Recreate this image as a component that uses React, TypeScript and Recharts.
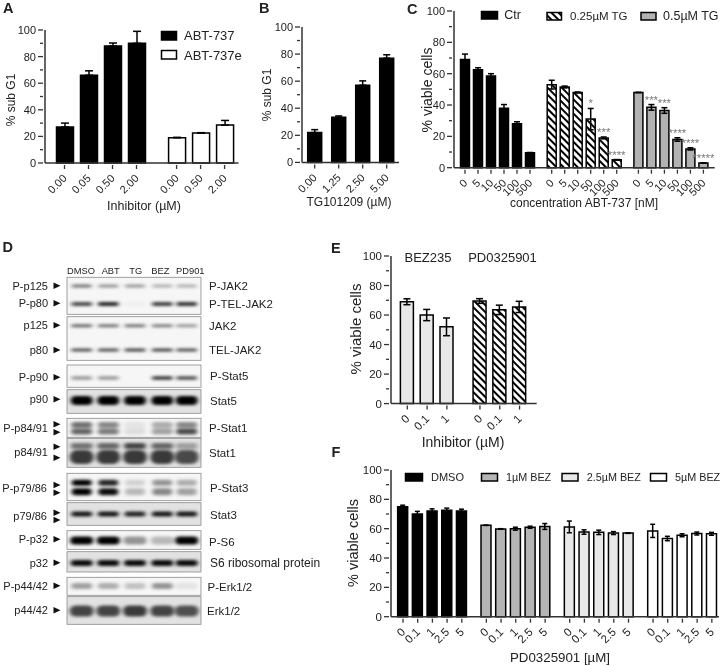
import { BarChart, Bar, Cell, ErrorBar, LabelList, XAxis, YAxis } from 'recharts';

// Panel A
const aLabels = [['0.00', '0.05', '0.50', '2.00'], ['0.00', '0.50', '2.00']];
const aValues = [[27, 66, 88, 90], [19, 22.5, 28.5]];
const aErrors = [[3, 3.3, 2.2, 9], [0.3, 0.3, 3.5]];

// Panel B
const bLabels = [['0.00', '1.25', '2.50', '5.00']];
const bValues = [[22, 33.3, 57, 77]];
const bErrors = [[2.2, 1, 3.2, 2.5]];

// Panel C
const cDoses = ['0', '5', '10', '50', '100', '500'];
const cLabels = [cDoses, cDoses, cDoses];
const cValues = [
  [69, 62.5, 58.5, 38, 28, 9.5],
  [53, 51.5, 48, 31, 19, 5],
  [48, 38.5, 36.5, 18, 12, 3],
];
const cErrors = [
  [3.5, 1.3, 1.5, 2.3, 1.3, 0.2],
  [2.8, 0.6, 0.3, 6.8, 0.6, 0.2],
  [0.1, 1.8, 1.8, 1.1, 0.7, 0.1],
];
const cStars = [
  ['', '', '', '', '', ''],
  ['', '', '', '*', '***', '****'],
  ['', '***', '***', '****', '****', '*****'],
];

// Panel E
const eDoses = ['0', '0.1', '1'];
const eLabels = [eDoses, eDoses];
const eValues = [[69, 60, 52], [69.5, 63.5, 65.5]];
const eErrors = [[2, 3.8, 6], [1.6, 3.2, 3.8]];

// Panel F
const fDoses = ['0', '0.1', '1', '2.5', '5'];
const fLabels = [fDoses, fDoses, fDoses, fDoses];
const fValues = [
  [75, 70, 72, 72.5, 72],
  [62.3, 59.8, 60, 61, 61.5],
  [61.2, 57.7, 57.5, 57, 57],
  [58.5, 53.3, 55.5, 56.7, 56.5],
];
const fErrors = [
  [1, 1.8, 1.5, 1.5, 1.3],
  [0.1, 0.2, 1, 0.7, 2],
  [4, 1.5, 1.5, 1, 0.2],
  [4.5, 1.5, 1, 1, 1],
];

// Blot band strengths, one per lane (0..1)
const blotLanes = ['DMSO', 'ABT', 'TG', 'BEZ', 'PD901'];
const pJak2 = [0.55, 0.42, 0.4, 0.3, 0.3];
const pTelJak2 = [0.7, 0.85, 0.03, 0.75, 0.8];
const jak2 = [0.6, 0.55, 0.55, 0.5, 0.4];
const telJak2 = [0.7, 0.7, 0.75, 0.75, 0.7];
const pStat5 = [0.4, 0.4, 0, 0.8, 0.7];
const stat5 = [1, 1, 1, 1, 1];
const pStat1Top = [0.55, 0.45, 0.08, 0.3, 0.45];
const pStat1Low = [0.6, 0.5, 0.1, 0.35, 0.7];
const stat1Top = [0.5, 0.55, 0.7, 0.55, 0.3];
const stat1Low = [0.75, 0.75, 0.75, 0.75, 0.68];
const pStat3Top = [1, 0.85, 0.15, 0.4, 0.3];
const pStat3Low = [1, 0.95, 0.25, 0.45, 0.35];
const stat3 = [0.9, 0.9, 0.85, 0.9, 0.9];
const pS6 = [1, 1, 0.4, 0.25, 1];
const s6 = [0.95, 0.95, 0.95, 0.95, 0.95];
const pErk = [0.35, 0.3, 0.22, 0.4, 0.08];
const erk = [0.7, 0.7, 0.75, 0.7, 0.65];

const FONT = '"Liberation Sans", Arial, sans-serif';
const INK = '#222';
const HATCH = 'url(#hatch)';
// gap between bar groups, in bar slots (same in every panel)
const GROUP_SHIFT = 0.67;
const Y_TICKS = [0, 10, 20, 30, 40, 50, 60, 70, 80, 90, 100];

function buildRows(labels: string[][], values: number[][], errors: number[][], upperOnly = false, stars?: string[][]) {
  const rows: any[] = [];
  let slot = 0;
  labels.forEach((group, g) => {
    group.forEach((label, i) => {
      rows.push({
        pos: slot + g * GROUP_SHIFT,
        label,
        group: g,
        value: values[g][i],
        err: upperOnly ? [0, errors[g][i]] : errors[g][i],
        errUp: errors[g][i],
        stars: stars ? stars[g][i] : '',
      });
      slot++;
    });
  });
  return rows;
}

function YTick({ x, y, payload, fontSize }: any) {
  const major = payload.value % 20 === 0;
  return (
    <g>
      <line x1={x} x2={x - (major ? 5 : 3)} y1={y} y2={y} stroke="#333" strokeWidth={1.3} />
      {major && (
        <text x={x - 7} y={y} textAnchor="end" dominantBaseline="central" fontSize={fontSize} fontFamily={FONT} fill={INK}>
          {payload.value}
        </text>
      )}
    </g>
  );
}

function XTick({ x, y, payload, labels, fontSize }: any) {
  const tx = x + 3;
  const ty = y + 14;
  return (
    <g>
      <line x1={x} x2={x} y1={y} y2={y + 4} stroke="#333" strokeWidth={1.3} />
      <text x={tx} y={ty} transform={`rotate(-45 ${tx} ${ty})`} textAnchor="end" fontSize={fontSize} fontFamily={FONT} fill={INK}>
        {labels[payload.index]}
      </text>
    </g>
  );
}

function Stars({ x, y, width, height, value, index, rows }: any) {
  if (!value) return null;
  const row = rows[index];
  const top = y - (row.errUp * height) / row.value;
  return (
    <text x={x + width / 2} y={top - 1} textAnchor="middle" fontSize={11.4} fontFamily={FONT} fill="#777">
      {value}
    </text>
  );
}

type PanelProps = {
  rows: any[];
  fills: string[];
  left: number;
  right: number;
  top: number;
  bottom: number;
  first: number; // px centre of first bar
  slot: number; // px between bars
  barSize: number;
  cap: number;
  fontSize?: number;
};

function Panel({ rows, fills, left, right, top, bottom, first, slot, barSize, cap, fontSize = 11 }: PanelProps) {
  const padL = 44;
  const padT = 10;
  const padB = 44;
  const padR = 6;
  const labels = rows.map(r => r.label);
  return (
    <div style={{ position: 'absolute', left: left - padL, top: top - padT }}>
      <BarChart
        width={right - left + padL + padR}
        height={bottom - top + padT + padB}
        data={rows}
        margin={{ top: padT, right: padR, left: 0, bottom: 0 }}
      >
        <XAxis
          dataKey="pos"
          type="number"
          domain={[(left - first) / slot, (right - first) / slot]}
          allowDataOverflow
          ticks={rows.map(r => r.pos)}
          interval={0}
          height={padB}
          tickSize={0}
          tickLine={false}
          axisLine={{ stroke: '#333', strokeWidth: 1.5 }}
          tick={<XTick labels={labels} fontSize={fontSize} />}
        />
        <YAxis
          type="number"
          domain={[0, 100]}
          ticks={Y_TICKS}
          interval={0}
          width={padL}
          tickSize={0}
          tickLine={false}
          axisLine={{ stroke: '#333', strokeWidth: 1.5 }}
          tick={<YTick fontSize={fontSize} />}
        />
        <Bar dataKey="value" barSize={barSize} isAnimationActive={false} stroke="#000" strokeWidth={1.5}>
          {rows.map((r, i) => (
            <Cell key={i} fill={fills[r.group]} />
          ))}
          <ErrorBar dataKey="err" direction="y" width={cap} stroke="#000" strokeWidth={1.5} isAnimationActive={false} />
          <LabelList dataKey="stars" content={<Stars rows={rows} />} />
        </Bar>
      </BarChart>
    </div>
  );
}

function Txt({ x, y, size = 11, anchor = 'start', bold, rotate, fill = INK, children }: any) {
  return (
    <text
      x={x}
      y={y}
      fontSize={size}
      fontFamily={FONT}
      fontWeight={bold ? 700 : 400}
      fill={fill}
      textAnchor={anchor}
      dominantBaseline="central"
      transform={rotate ? `rotate(${rotate} ${x} ${y})` : undefined}
    >
      {children}
    </text>
  );
}

function Swatch({ x, y, w, h, fill }: any) {
  return <rect x={x} y={y} width={w} height={h} fill={fill} stroke="#000" strokeWidth={1.5} />;
}

function Arrow({ y }: { y: number }) {
  return <polygon points={`53.5,${y - 3.2} 60.5,${y} 53.5,${y + 3.2}`} fill="#111" />;
}

const laneCenters = [81.7, 108.3, 135, 162.3, 186.7];

function Strip({ y1, y2, bands, halo = 0 }: any) {
  const id = `strip-${Math.round(y1)}`;
  return (
    <g>
      <clipPath id={id}>
        <rect x={67} y={y1} width={134} height={y2 - y1} />
      </clipPath>
      <rect x={67} y={y1} width={134} height={y2 - y1} fill={halo ? '#e2e2e2' : '#f6f6f6'} />
      <g clipPath={`url(#${id})`}>
        {bands.map((b: any, k: number) =>
          b.levels.map((lv: number, i: number) => (
            <rect
              key={`${k}-${i}`}
              x={laneCenters[i] - b.w / 2}
              y={b.y - b.h / 2}
              width={b.w}
              height={b.h}
              rx={b.h / 2}
              fill="#000"
              fillOpacity={lv}
              filter="url(#soft)"
            />
          ))
        )}
      </g>
      <rect x={67} y={y1} width={134} height={y2 - y1} fill="none" stroke="#8a8a8a" strokeWidth={0.8} />
    </g>
  );
}

function Blot() {
  return (
    <g>
      <Strip y1={277.3} y2={314.3} bands={[{ y: 286, h: 3, w: 20, levels: pJak2 }, { y: 304, h: 4, w: 21, levels: pTelJak2 }]} />
      <Strip y1={316.7} y2={360.3} bands={[{ y: 325.7, h: 3, w: 21, levels: jak2 }, { y: 350, h: 3, w: 21, levels: telJak2 }]} />
      <Strip y1={365} y2={387.3} bands={[{ y: 378, h: 3.5, w: 21, levels: pStat5 }]} />
      <Strip y1={389.7} y2={413.3} halo={1} bands={[{ y: 400.5, h: 9, w: 22, levels: stat5 }]} />
      <Strip y1={418.3} y2={437.3} bands={[{ y: 425, h: 6, w: 21, levels: pStat1Top }, { y: 431.5, h: 6, w: 21, levels: pStat1Low }]} />
      <Strip y1={438.3} y2={467.3} halo={1} bands={[{ y: 446, h: 6, w: 22, levels: stat1Top }, { y: 457, h: 14, w: 24, levels: stat1Low }]} />
      <Strip y1={473.3} y2={500.7} bands={[{ y: 482.7, h: 6, w: 20, levels: pStat3Top }, { y: 491.7, h: 7, w: 20, levels: pStat3Low }]} />
      <Strip y1={502.7} y2={525.3} halo={1} bands={[{ y: 514, h: 5, w: 21, levels: stat3 }]} />
      <Strip y1={530.7} y2={549.3} bands={[{ y: 540.5, h: 8, w: 23, levels: pS6 }]} />
      <Strip y1={551.7} y2={572} halo={1} bands={[{ y: 563, h: 6, w: 22, levels: s6 }]} />
      <Strip y1={577.3} y2={595.3} bands={[{ y: 586, h: 6, w: 21, levels: pErk }]} />
      <Strip y1={596.7} y2={624.3} halo={1} bands={[{ y: 611, h: 11, w: 24, levels: erk }]} />

      {[81, 110.7, 135.7, 160.3, 190.3].map((x, i) => (
        <Txt key={i} x={x} y={270.7} size={9.3} anchor="middle">{blotLanes[i]}</Txt>
      ))}

      <Txt x={48} y={285.7} anchor="end">P-p125</Txt>
      <Txt x={48} y={303.3} anchor="end">P-p80</Txt>
      <Txt x={48} y={325.3} anchor="end">p125</Txt>
      <Txt x={48} y={350} anchor="end">p80</Txt>
      <Txt x={48} y={377.3} anchor="end">P-p90</Txt>
      <Txt x={48} y={399.3} anchor="end">p90</Txt>
      <Txt x={48} y={427.7} anchor="end">P-p84/91</Txt>
      <Txt x={48} y={452.3} anchor="end">p84/91</Txt>
      <Txt x={47} y={488.3} anchor="end">P-p79/86</Txt>
      <Txt x={47} y={516} anchor="end">p79/86</Txt>
      <Txt x={48} y={539.3} anchor="end">P-p32</Txt>
      <Txt x={48} y={562.7} anchor="end">p32</Txt>
      <Txt x={48} y={585.7} anchor="end">P-p44/42</Txt>
      <Txt x={48} y={610.3} anchor="end">p44/42</Txt>

      {[285.7, 303.3, 325.3, 350, 377.3, 399.3, 424.3, 432.3, 446.7, 457.7, 485, 492.7, 512.7, 520, 539.3, 562.7, 585.7, 610.3].map(y => (
        <Arrow key={y} y={y} />
      ))}

      <Txt x={209} y={286} size={11.5}>P-JAK2</Txt>
      <Txt x={209} y={304.3} size={11.5}>P-TEL-JAK2</Txt>
      <Txt x={209} y={326.3} size={11.5}>JAK2</Txt>
      <Txt x={209} y={350} size={11.5}>TEL-JAK2</Txt>
      <Txt x={210} y={376} size={11.5}>P-Stat5</Txt>
      <Txt x={210} y={400.7} size={11.5}>Stat5</Txt>
      <Txt x={209} y={428} size={11.5}>P-Stat1</Txt>
      <Txt x={209} y={453.3} size={11.5}>Stat1</Txt>
      <Txt x={210} y={488.3} size={11.5}>P-Stat3</Txt>
      <Txt x={210} y={515} size={11.5}>Stat3</Txt>
      <Txt x={209} y={542.3} size={11.5}>P-S6</Txt>
      <Txt x={210} y={562.7} size={12}>S6 ribosomal protein</Txt>
      <Txt x={207.5} y={587.3} size={11.5}>P-Erk1/2</Txt>
      <Txt x={207} y={610.7} size={11.5}>Erk1/2</Txt>
    </g>
  );
}

function Decorations() {
  return (
    <svg width={726} height={666} style={{ position: 'absolute', left: 0, top: 0 }}>
      <defs>
        <pattern id="hatch" width={5} height={5} patternUnits="userSpaceOnUse" patternTransform="rotate(-45)">
          <rect width={5} height={5} fill="#fff" />
          <rect width={2} height={5} fill="#000" />
        </pattern>
        <filter id="soft" x="-30%" y="-150%" width="160%" height="400%">
          <feGaussianBlur stdDeviation="2 1.6" />
        </filter>
      </defs>

      <Txt x={3} y={8} size={14.5} bold>A</Txt>
      <Txt x={259} y={8} size={14.5} bold>B</Txt>
      <Txt x={407} y={8.5} size={14.5} bold>C</Txt>
      <Txt x={2.5} y={247} size={14.5} bold>D</Txt>
      <Txt x={331} y={247.5} size={14.5} bold>E</Txt>
      <Txt x={331.5} y={452} size={14.5} bold>F</Txt>

      <Swatch x={161.5} y={31.5} w={15} h={8.5} fill="#000" />
      <Txt x={184} y={35.7} size={13}>ABT-737</Txt>
      <Swatch x={161.5} y={50.5} w={15} h={8.5} fill="#fff" />
      <Txt x={184} y={55} size={13}>ABT-737e</Txt>
      <Txt x={11} y={100} size={12} anchor="middle" rotate={-90}>% sub G1</Txt>
      <Txt x={144} y={205.7} size={12.5} anchor="middle">Inhibitor (µM)</Txt>

      <Txt x={267} y={95} size={12} anchor="middle" rotate={-90}>% sub G1</Txt>
      <Txt x={349} y={201.7} size={12} anchor="middle">TG101209 (µM)</Txt>

      <Swatch x={481.5} y={11.5} w={16} h={7.5} fill="#000" />
      <Txt x={504.3} y={15} size={12.5}>Ctr</Txt>
      <Swatch x={547} y={12.5} w={14.5} h={7.5} fill={HATCH} />
      <Txt x={570} y={16} size={11.5}>0.25µM TG</Txt>
      <Swatch x={641} y={12.5} w={15} h={7.5} fill="#b2b2b2" />
      <Txt x={663} y={16} size={12.5}>0.5µM TG</Txt>
      <Txt x={426.7} y={90} size={14} anchor="middle" rotate={-90}>% viable cells</Txt>
      <Txt x={584} y={203} size={12} anchor="middle">concentration ABT-737 [nM]</Txt>

      <Blot />

      <Txt x={428} y={257} size={13} anchor="middle">BEZ235</Txt>
      <Txt x={502.5} y={257} size={13} anchor="middle">PD0325901</Txt>
      <Txt x={355} y={329} size={15} anchor="middle" rotate={-90}>% viable cells</Txt>
      <Txt x={463} y={442} size={14} anchor="middle">Inhibitor (µM)</Txt>

      <Swatch x={405.5} y={473.5} w={17} h={7.5} fill="#000" />
      <Txt x={431} y={477} size={11}>DMSO</Txt>
      <Swatch x={481.5} y={473.5} w={16} h={7.5} fill="#b5b5b5" />
      <Txt x={506} y={477} size={10.8}>1µM BEZ</Txt>
      <Swatch x={562} y={473.5} w={16} h={7.5} fill="#e8e8e8" />
      <Txt x={586.7} y={477} size={10.8}>2.5µM BEZ</Txt>
      <Swatch x={650.5} y={473.5} w={16} h={7.5} fill="#fff" />
      <Txt x={675} y={477} size={10.8}>5µM BEZ</Txt>
      <Txt x={352.7} y={543} size={14.5} anchor="middle" rotate={-90}>% viable cells</Txt>
      <Txt x={560} y={657.7} size={13.3} anchor="middle">PD0325901 [µM]</Txt>
    </svg>
  );
}

const rowsA = buildRows(aLabels, aValues, aErrors, true);
const rowsB = buildRows(bLabels, bValues, bErrors, true);
const rowsC = buildRows(cLabels, cValues, cErrors, false, cStars);
const rowsE = buildRows(eLabels, eValues, eErrors);
const rowsF = buildRows(fLabels, fValues, fErrors);

export default function App() {
  return (
    <div style={{ position: 'absolute', left: 0, top: 0, width: 726, height: 666, background: '#fff', overflow: 'hidden', filter: 'blur(0.35px)' }}>
      <Decorations />
      <Panel rows={rowsA} fills={['#000', '#fff']} left={44.5} right={238} top={30} bottom={163} first={64} slot={24} barSize={17} cap={4} />
      <Panel rows={rowsB} fills={['#000']} left={302} right={399} top={27.3} bottom={162.7} first={314.7} slot={24} barSize={14} cap={3.5} />
      <Panel rows={rowsC} fills={['#000', HATCH, '#b2b2b2']} left={454.3} right={715} top={11} bottom={167.7} first={465.3} slot={13} barSize={9} cap={3} />
      <Panel rows={rowsE} fills={['#e8e8e8', HATCH]} left={391} right={536.7} top={255.7} bottom={403.3} first={407.3} slot={19.8} barSize={13} cap={3.5} fontSize={11.5} />
      <Panel rows={rowsF} fills={['#000', '#b5b5b5', '#e8e8e8', '#fff']} left={391} right={719} top={470.3} bottom={617} first={403} slot={14.7} barSize={10} cap={2.5} fontSize={11.5} />
    </div>
  );
}
